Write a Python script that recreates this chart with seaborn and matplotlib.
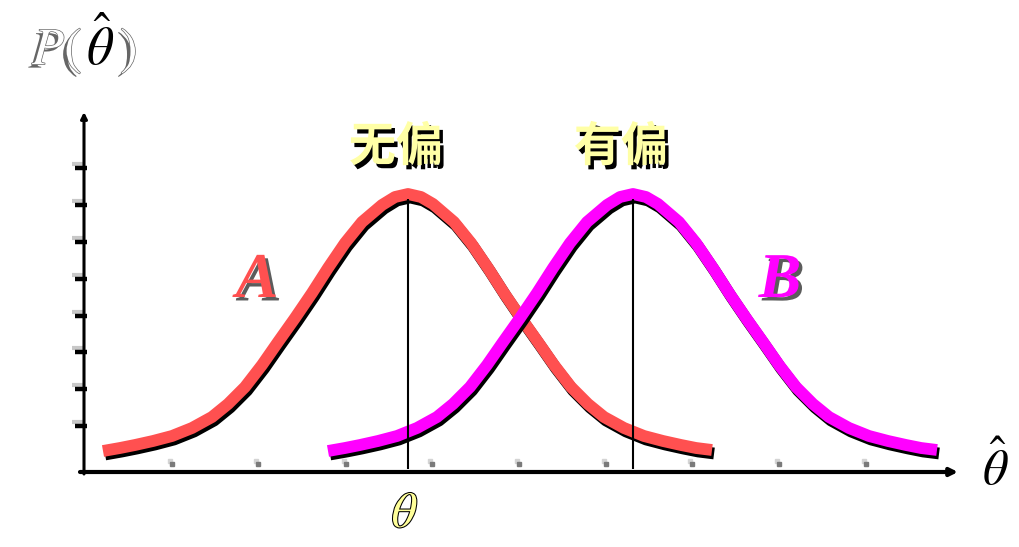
import numpy as np
import pandas as pd
import seaborn as sns
import matplotlib
matplotlib.use("Agg")
from matplotlib import pyplot as plt
from matplotlib import patheffects as pe
from matplotlib import transforms

# curve shape: offset from the curve's centre and height above the axis
offsets = [-3.05, -2.88, -2.73, -2.55, -2.36, -2.16, -1.96, -1.80, -1.63, -1.46, -1.30,
           -1.13, -0.96, -0.80, -0.63, -0.46, -0.26, -0.13, 0.0,
           0.13, 0.25, 0.46, 0.63, 0.80, 0.96, 1.13, 1.30, 1.46, 1.63, 1.80,
           1.96, 2.16, 2.36, 2.55, 2.73, 2.88, 3.04]
density = [0.21, 0.24, 0.27, 0.31, 0.36, 0.44, 0.55, 0.68, 0.85, 1.07, 1.30,
           1.54, 1.79, 2.04, 2.29, 2.50, 2.67, 2.75, 2.78,
           2.75, 2.68, 2.50, 2.29, 2.04, 1.79, 1.54, 1.30, 1.07, 0.85, 0.68,
           0.55, 0.44, 0.36, 0.31, 0.27, 0.24, 0.22]
theta = 3.20          # true value (unbiased estimator A is centred here)
theta_biased = 5.45   # centre of biased estimator B
curve_names = ['A', 'B']
curve_labels = ['无偏', '有偏']
curve_colors = ['#ff5050', '#ff00ff']
ytick_pos = [0.46, 0.83, 1.20, 1.56, 1.93, 2.30, 2.67, 3.04]
xtick_pos = [0.84, 1.70, 2.58, 3.44, 4.31, 5.18, 6.04, 6.91, 7.78]

df = pd.concat([
    pd.DataFrame({'est': 'A', 'x': theta + np.array(offsets), 'p': density}),
    pd.DataFrame({'est': 'B', 'x': theta_biased + np.array(offsets), 'p': density}),
])

sns.set_style('white')
plt.rcParams['mathtext.fontset'] = 'stix'

fig = plt.figure(figsize=(10.19, 5.47), dpi=100)
ax = fig.add_axes([0, 0, 1, 1])
ax.set_xlim(-0.88, 9.31)
ax.set_ylim(-0.75, 4.72)
ax.axis('off')

# axes drawn as arrows
ax.annotate('', xy=(8.70, 0), xytext=(-0.08, 0),
            arrowprops=dict(arrowstyle='-|>', lw=3, color='black', mutation_scale=11,
                            shrinkA=0, shrinkB=0))
ax.annotate('', xy=(-0.04, 3.60), xytext=(-0.04, -0.02),
            arrowprops=dict(arrowstyle='-|>', lw=2.2, color='black', mutation_scale=9,
                            shrinkA=0, shrinkB=0))

# y ticks with light highlight
hl = transforms.offset_copy(ax.transData, fig=fig, x=-3, y=4, units='dots')
ax.plot(np.full(len(ytick_pos), -0.07), ytick_pos, ls='none', marker='_', ms=8,
        mew=3, color='#c8c8c8', transform=hl)
ax.plot(np.full(len(ytick_pos), -0.07), ytick_pos, ls='none', marker='_', ms=8,
        mew=3.2, color='black')
# small grey x tick dots
hl2 = transforms.offset_copy(ax.transData, fig=fig, x=-2, y=3, units='dots')
ax.plot(xtick_pos, np.full(len(xtick_pos), 0.08), ls='none', marker='s', ms=2.6,
        color='#d4d4d4', transform=hl2)
ax.plot(xtick_pos, np.full(len(xtick_pos), 0.08), ls='none', marker='s', ms=2.6,
        color='#7a7a7a')

shadow = [pe.SimpleLineShadow(offset=(1.5, -2.5), shadow_color='black', alpha=1.0),
          pe.Normal()]
for name, col in zip(curve_names, curve_colors):
    sns.lineplot(data=df[df['est'] == name], x='x', y='p', sort=False, estimator=None,
                 color=col, lw=8.5, solid_capstyle='butt', solid_joinstyle='round',
                 path_effects=shadow, ax=ax, zorder=3)

# centre lines
for c in [theta, theta_biased]:
    ax.vlines(c, 0.03, density[offsets.index(0.0)] - 0.05, color='black', lw=1.5, zorder=4)

# texts
cjk_fx = [pe.withSimplePatchShadow(offset=(2.5, -3), shadow_rgbFace='black', alpha=1.0)]
for c, lab in zip([theta, theta_biased], curve_labels):
    ax.text(c - 0.12, 3.25, lab, family=['Noto Sans CJK SC', 'DejaVu Sans'],
            fontweight='heavy', fontsize=34, color='#ffffa6', ha='center', va='center',
            path_effects=cjk_fx)

name_fx = [pe.withSimplePatchShadow(offset=(2.5, -2.5), shadow_rgbFace='#333333', alpha=0.8)]
for x, name, col in zip([1.69, 6.92], curve_names, curve_colors):
    ax.text(x, 1.90, name, family='Liberation Serif', fontstyle='italic',
            fontweight='bold', fontsize=46, color=col, ha='center', va='center',
            path_effects=name_fx)

ax.text(theta - 0.03, -0.41, r'$\theta$', fontsize=36, color='#ffff99',
        ha='center', va='center',
        path_effects=[pe.withStroke(linewidth=1.5, foreground='black')])
ax.text(9.07, 0.04, r'$\hat{\theta}$', fontsize=36, color='black',
        ha='center', va='center')

# P(theta-hat): light letters with a soft shadow, dark theta
soft = [pe.withSimplePatchShadow(offset=(-2.5, -2.5), shadow_rgbFace='#333333', alpha=0.75),
        pe.withStroke(linewidth=1.0, foreground='#666666')]
ax.text(-0.06, 4.22, r'$P($', fontsize=38, color='white', ha='right', va='center',
        path_effects=soft)
ax.text(0.12, 4.25, r'$\hat{\theta}$', fontsize=38, color='black', ha='center', va='center')
ax.text(0.32, 4.22, r'$)$', fontsize=38, color='white', ha='left', va='center',
        path_effects=soft)

fig.savefig('out.png', dpi=100)
